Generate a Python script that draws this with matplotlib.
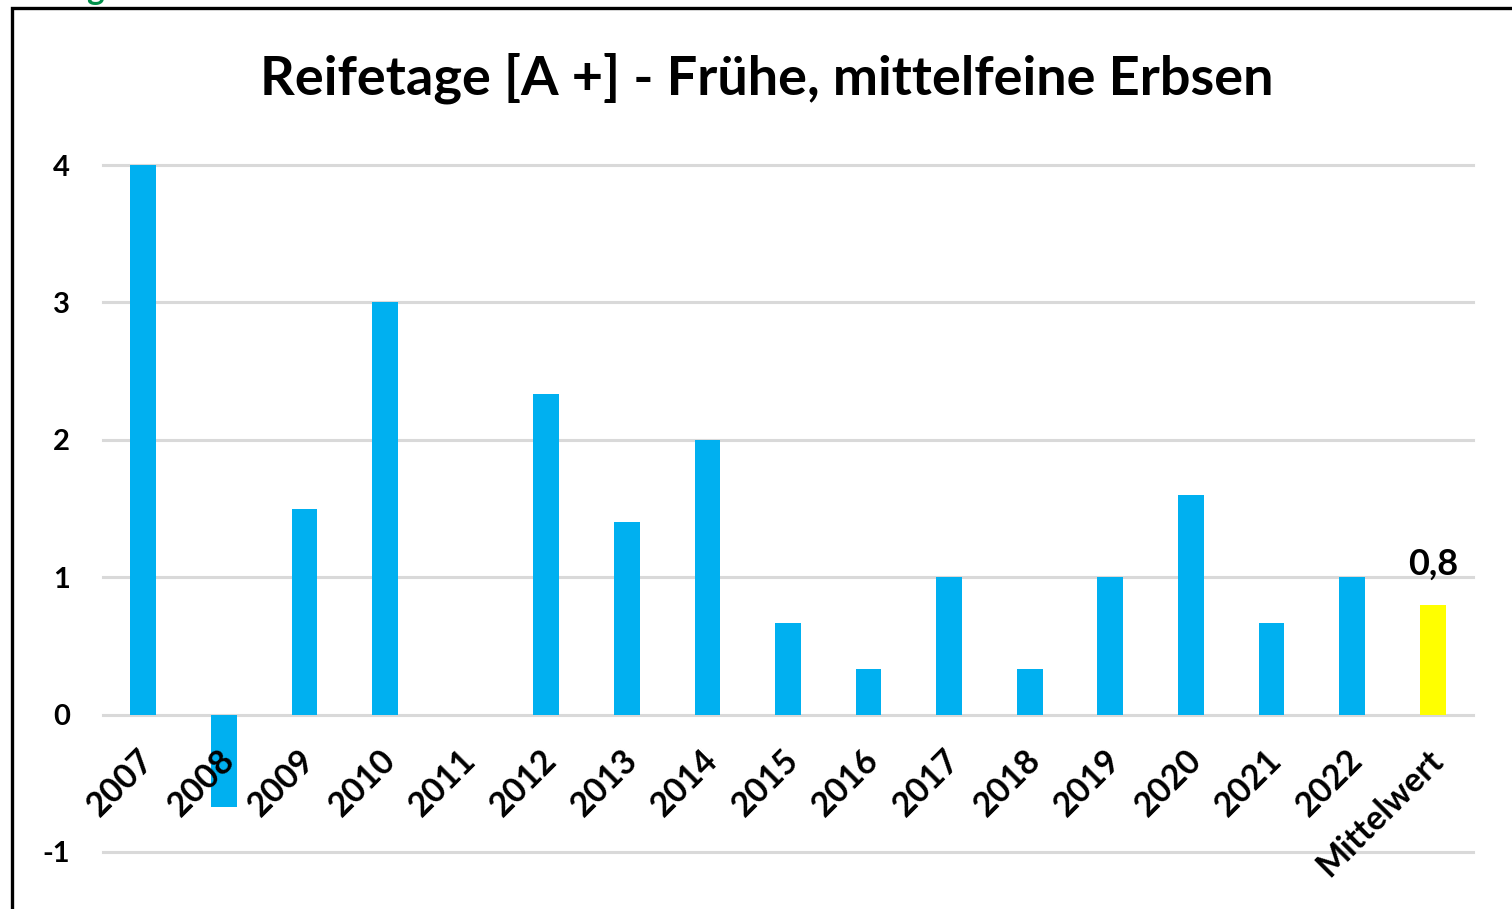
import matplotlib
matplotlib.use("Agg")
import matplotlib.pyplot as plt
from matplotlib.patches import Rectangle
from matplotlib.transforms import ScaledTranslation

categories = ["2007", "2008", "2009", "2010", "2011", "2012", "2013", "2014", "2015",
              "2016", "2017", "2018", "2019", "2020", "2021", "2022", "Mittelwert"]
values = [4.0, -0.67, 1.5, 3.0, 0.0, 2.33, 1.4, 2.0, 0.67,
          0.33, 1.0, 0.33, 1.0, 1.6, 0.67, 1.0, 0.8]
colors = ["#00B0F0"] * 16 + ["#FFFF00"]
title = "Reifetage [A +] - Frühe, mittelfeine Erbsen"
yticks = [-1, 0, 1, 2, 3, 4]
mean_label = "0,8"

plt.rcParams['font.family'] = ['Lato', 'DejaVu Sans']

fig = plt.figure(figsize=(15.12, 9.09), dpi=100)
ax = fig.add_axes([103/1512, 1-852/909, (1473-103)/1512, (852-165)/909])

x = list(range(len(categories)))
for yv in yticks:
    ax.axhline(yv, color="#D9D9D9", linewidth=2.2, zorder=0, clip_on=False)
ax.bar(x, values, width=0.32, color=colors, zorder=1)

ax.set_xlim(-0.5, len(categories) - 0.5)
ax.set_ylim(-1, 4)
ax.set_yticks(yticks)
ax.set_yticklabels([str(v) for v in yticks], fontsize=21, fontweight='bold')
for s in ax.spines.values():
    s.set_visible(False)
ax.spines['bottom'].set_position(('data', 0))
ax.tick_params(axis='both', length=0)
ax.tick_params(axis='y', pad=24)
ax.set_xticks(x)
ax.set_xticklabels(categories, fontsize=24.5, fontweight='bold', rotation=45,
                   ha='right', va='top', rotation_mode='anchor')
ax.tick_params(axis='x', pad=21)
shift = ScaledTranslation(-6/100, 0, fig.dpi_scale_trans)
for lbl in ax.get_xticklabels():
    lbl.set_transform(lbl.get_transform() + shift)

ax.annotate(mean_label, (x[-1], values[-1]), xytext=(0, 17), textcoords='offset points',
            ha='center', va='bottom', fontsize=26, fontweight='bold')

fig.text(0.507, 1-78/909, title, ha='center', va='center', fontsize=39, fontweight='bold')

fig.add_artist(Rectangle((12/1512, -0.2), 1.5, 0.2 + (1-8/909), fill=False,
                         edgecolor='black', linewidth=2.4, transform=fig.transFigure))
fig.text(0.057, 1.0, "g", color="#00904A", fontsize=24, fontweight='bold', va='baseline')

fig.savefig("out.png", dpi=100)
